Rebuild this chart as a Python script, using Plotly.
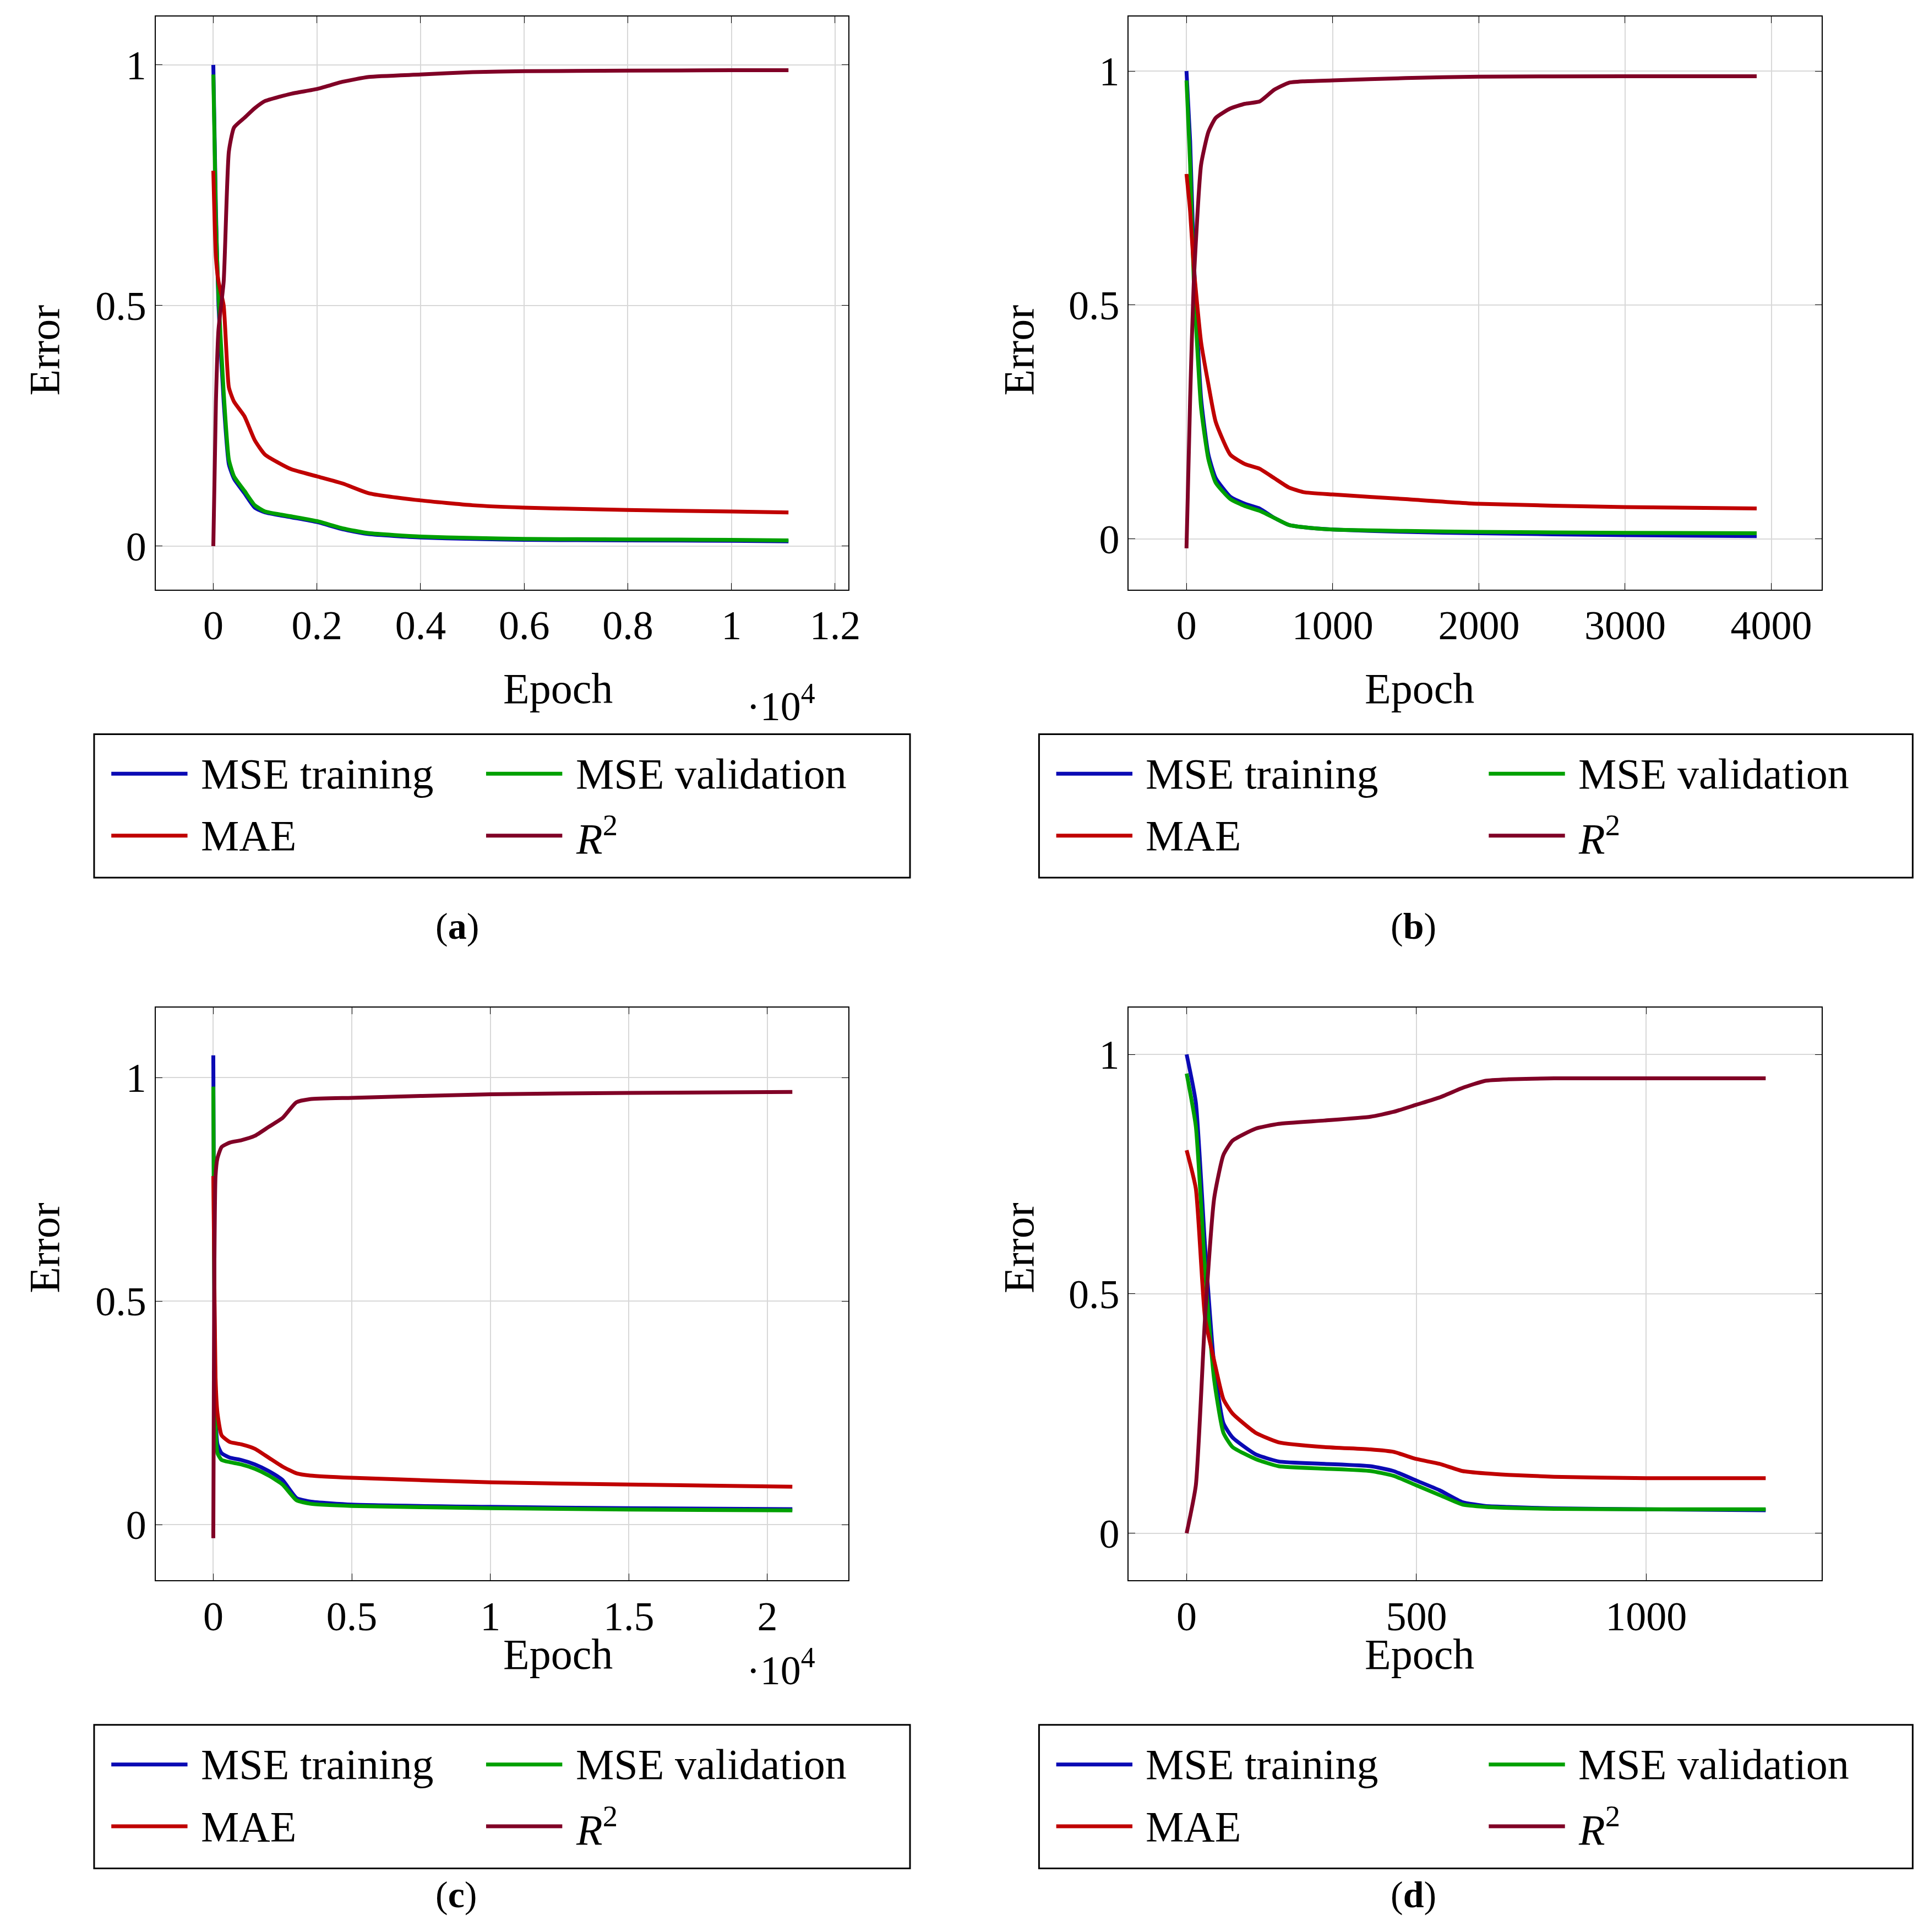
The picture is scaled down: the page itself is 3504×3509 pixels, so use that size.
import plotly.graph_objects as go

W, H = 3504, 3509
DW, DH = 1560.0, 1562.0
def px(X): return X / DW
def py(Y): return 1 - Y / DH

BLUE, GREEN, RED, MAROON = "#0a0ab4", "#00a000", "#c00000", "#800026"
FONT = "Liberation Serif"

# Panel (a)
a_epoch = [0, 50, 100, 200, 300, 400, 600, 800, 1000, 1500, 2000, 2500, 3000, 4000, 5000, 6000, 8000, 10000, 11100]
a_mse_tr = [1.0, 0.7, 0.5, 0.3, 0.17, 0.14, 0.11, 0.08, 0.07, 0.06, 0.05, 0.035, 0.025, 0.018, 0.015, 0.013, 0.012, 0.011, 0.010]
a_mse_va = [0.98, 0.68, 0.52, 0.32, 0.18, 0.145, 0.115, 0.085, 0.072, 0.062, 0.052, 0.037, 0.027, 0.02, 0.017, 0.015, 0.014, 0.013, 0.012]
a_mae = [0.78, 0.6, 0.55, 0.5, 0.33, 0.3, 0.27, 0.22, 0.19, 0.16, 0.145, 0.13, 0.11, 0.095, 0.085, 0.08, 0.075, 0.072, 0.07]
a_r2 = [0.0, 0.3, 0.45, 0.55, 0.82, 0.87, 0.89, 0.91, 0.925, 0.94, 0.95, 0.965, 0.975, 0.98, 0.985, 0.987, 0.988, 0.989, 0.989]

# Panel (b)
b_epoch = [0, 25, 50, 100, 150, 200, 300, 400, 500, 600, 700, 800, 1000, 1500, 2000, 3000, 3900]
b_mse_tr = [1.0, 0.85, 0.6, 0.3, 0.18, 0.13, 0.09, 0.075, 0.065, 0.045, 0.03, 0.025, 0.02, 0.015, 0.012, 0.008, 0.006]
b_mse_va = [0.98, 0.8, 0.55, 0.28, 0.17, 0.12, 0.085, 0.07, 0.06, 0.045, 0.03, 0.025, 0.02, 0.017, 0.015, 0.013, 0.012]
b_mae = [0.78, 0.7, 0.58, 0.42, 0.33, 0.25, 0.18, 0.16, 0.15, 0.13, 0.11, 0.1, 0.095, 0.085, 0.075, 0.068, 0.065]
b_r2 = [-0.02, 0.3, 0.55, 0.8, 0.87, 0.9, 0.92, 0.93, 0.935, 0.96, 0.975, 0.978, 0.98, 0.985, 0.988, 0.989, 0.989]

# Panel (c)
c_epoch = [0, 30, 80, 150, 300, 600, 1000, 1500, 2000, 2500, 3000, 3500, 5000, 10000, 15000, 20900]
c_mse_tr = [1.05, 0.6, 0.25, 0.18, 0.16, 0.15, 0.145, 0.135, 0.12, 0.1, 0.06, 0.052, 0.045, 0.04, 0.037, 0.035]
c_mse_va = [0.98, 0.55, 0.22, 0.16, 0.145, 0.14, 0.135, 0.125, 0.11, 0.09, 0.055, 0.047, 0.042, 0.037, 0.034, 0.032]
c_mae = [0.78, 0.6, 0.33, 0.25, 0.2, 0.185, 0.18, 0.17, 0.15, 0.13, 0.115, 0.11, 0.105, 0.095, 0.09, 0.085]
c_r2 = [-0.03, 0.5, 0.78, 0.82, 0.845, 0.855, 0.86, 0.87, 0.89, 0.91, 0.945, 0.952, 0.955, 0.963, 0.966, 0.968]

# Panel (d)
d_epoch = [0, 20, 40, 60, 80, 100, 150, 200, 300, 400, 450, 500, 550, 600, 650, 700, 800, 1000, 1260]
d_mse_tr = [1.0, 0.9, 0.6, 0.35, 0.23, 0.2, 0.165, 0.15, 0.145, 0.14, 0.13, 0.11, 0.09, 0.065, 0.057, 0.055, 0.052, 0.05, 0.048]
d_mse_va = [0.96, 0.85, 0.55, 0.32, 0.21, 0.18, 0.155, 0.14, 0.135, 0.13, 0.12, 0.1, 0.08, 0.06, 0.055, 0.053, 0.051, 0.05, 0.05]
d_mae = [0.8, 0.72, 0.45, 0.36, 0.28, 0.25, 0.21, 0.19, 0.18, 0.175, 0.17, 0.155, 0.145, 0.13, 0.125, 0.122, 0.118, 0.115, 0.115]
d_r2 = [0.0, 0.1, 0.45, 0.7, 0.79, 0.82, 0.845, 0.855, 0.862, 0.87, 0.88, 0.895, 0.91, 0.93, 0.945, 0.948, 0.95, 0.95, 0.95]

series_names = ["MSE training", "MSE validation", "MAE", "<i>R</i><sup>2</sup>"]
series_colors = [BLUE, GREEN, RED, MAROON]

panels = [
    dict(label="a", data=(a_epoch, a_mse_tr, a_mse_va, a_mae, a_r2), x0=123, y0=10, xr=[-1115, 12260], yr=[-0.09, 1.10],
         xt=[0, 2000, 4000, 6000, 8000, 10000, 12000], xtt=["0", "0.2", "0.4", "0.6", "0.8", "1", "1.2"], exp=True),
    dict(label="b", data=(b_epoch, b_mse_tr, b_mse_va, b_mae, b_r2), x0=915, y0=10, xr=[-395, 4345], yr=[-0.108, 1.116],
         xt=[0, 1000, 2000, 3000, 4000], xtt=["0", "1000", "2000", "3000", "4000"], exp=False),
    dict(label="c", data=(c_epoch, c_mse_tr, c_mse_va, c_mae, c_r2), x0=123, y0=811, xr=[-2085, 22930], yr=[-0.124, 1.157],
         xt=[0, 5000, 10000, 15000, 20000], xtt=["0", "0.5", "1", "1.5", "2"], exp=True),
    dict(label="d", data=(d_epoch, d_mse_tr, d_mse_va, d_mae, d_r2), x0=915, y0=811, xr=[-126, 1382], yr=[-0.098, 1.098],
         xt=[0, 500, 1000], xtt=["0", "500", "1000"], exp=False),
]

fig = go.Figure()
shapes, ann = [], []
TICK = 74
for i, p in enumerate(panels):
    n = "" if i == 0 else str(i + 1)
    xa, ya = "x" + n, "y" + n
    ep = p["data"][0]
    for ys, col in zip(p["data"][1:], series_colors):
        fig.add_trace(go.Scatter(x=ep, y=ys, mode="lines", line=dict(color=col, width=7, shape="spline", smoothing=0.5),
                                 xaxis=xa, yaxis=ya, showlegend=False))
    X0, Y0 = p["x0"], p["y0"]
    X1, Y1 = X0 + 564, Y0 + 463
    ax = dict(showline=True, mirror="ticks", linecolor="black", linewidth=2, ticks="inside", ticklen=12,
              tickcolor="black", showgrid=True, gridcolor="#d8d8d8", gridwidth=2, zeroline=False,
              tickfont=dict(family=FONT, size=TICK, color="black"))
    fig.layout["xaxis" + n] = dict(ax, domain=[px(X0), px(X1)], range=p["xr"], tickvals=p["xt"], ticktext=p["xtt"],
                                   anchor=ya)
    fig.layout["yaxis" + n] = dict(ax, domain=[py(Y1), py(Y0)], range=p["yr"], tickvals=[0, 0.5, 1],
                                   ticktext=["0", "0.5", "1"], anchor=xa)
    tf = dict(family=FONT, size=78, color="black")
    ann.append(dict(text="Epoch", x=px(X0 + 282), y=py(Y0 + 543), xref="paper", yref="paper", showarrow=False, font=tf))
    ex = 12 if X0 < 500 else 805
    ann.append(dict(text="Error", x=px(ex), y=py(Y0 + 232), xref="paper", yref="paper", showarrow=False, textangle=-90,
                    xanchor="left", font=tf))
    if p["exp"]:
        ann.append(dict(text="·10<sup>4</sup>", x=px(632), y=py(Y0 + 555), xref="paper", yref="paper", showarrow=False,
                        font=dict(family=FONT, size=74, color="black")))
    if X0 < 500:
        bx0, bx1, c1, c2 = 73, 737, 87, 392
    else:
        bx0, bx1, c1, c2 = 842, 1553, 856, 1208
    by0 = Y0 + 580
    shapes.append(dict(type="rect", xref="paper", yref="paper", x0=px(bx0), x1=px(bx1), y0=py(by0), y1=py(by0 + 116),
                       line=dict(color="black", width=3), fillcolor="white"))
    for k in range(4):
        cx = c1 if k % 2 == 0 else c2
        ry = by0 + 32 + 50 * (k // 2)
        shapes.append(dict(type="line", xref="paper", yref="paper", x0=px(cx), x1=px(cx + 62), y0=py(ry), y1=py(ry),
                           line=dict(color=series_colors[k], width=7)))
        ann.append(dict(text=series_names[k], x=px(cx + 72), y=py(ry), xref="paper", yref="paper", showarrow=False,
                        xanchor="left", yanchor="middle", font=dict(family=FONT, size=78, color="black")))
    ann.append(dict(text="(<b>%s</b>)" % p["label"], x=px(bx0 + (277 if X0 < 500 else 324)), y=py(Y0 + 735),
                    xref="paper", yref="paper", showarrow=False, font=dict(family=FONT, size=68, color="black")))

fig.update_layout(width=W, height=H, margin=dict(l=0, r=0, t=0, b=0), plot_bgcolor="white", paper_bgcolor="white",
                  shapes=shapes, annotations=ann, showlegend=False)
fig.write_html("out.html")
